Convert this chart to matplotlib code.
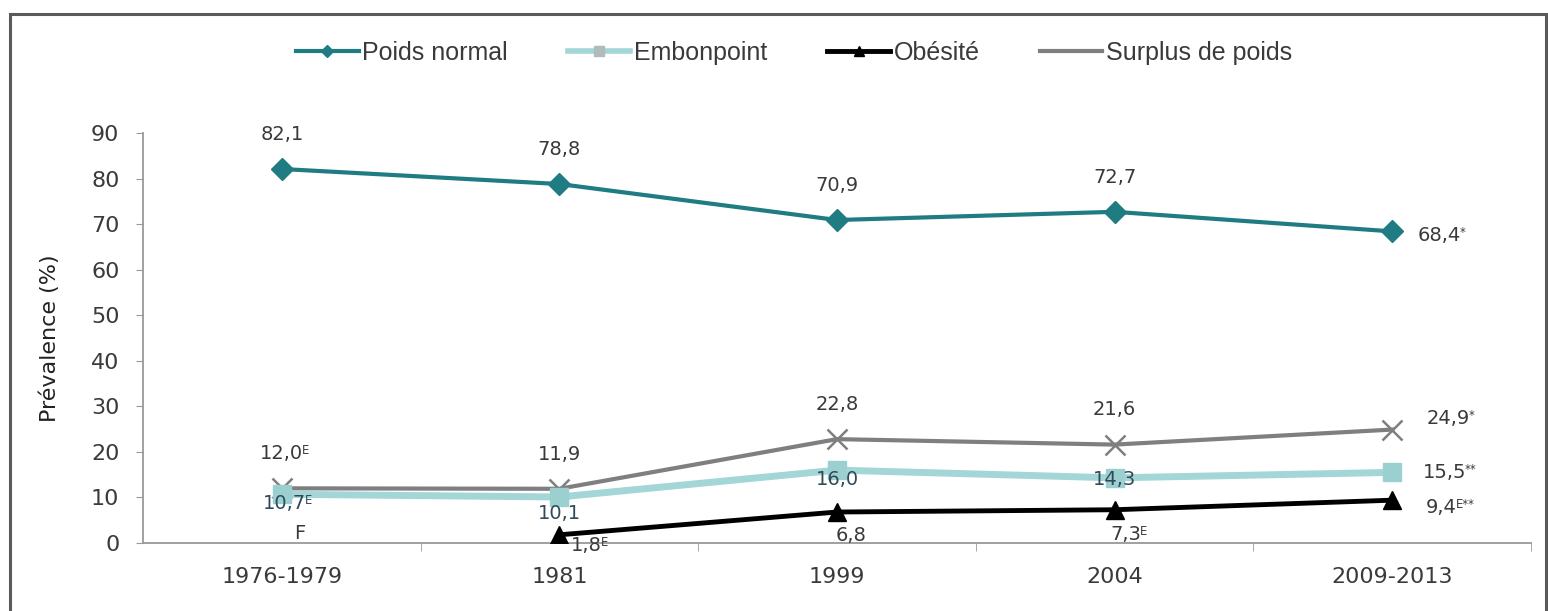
import matplotlib
matplotlib.use("Agg")
import matplotlib.pyplot as plt
from matplotlib.lines import Line2D
from matplotlib.patches import Rectangle
from matplotlib.ticker import FixedLocator

plt.rcParams['font.family'] = ['DejaVu Sans']

periods = ["1976-1979", "1981", "1999", "2004", "2009-2013"]

poids_normal = [82.1, 78.8, 70.9, 72.7, 68.4]
embonpoint = [10.7, 10.1, 16.0, 14.3, 15.5]
obesite = [None, 1.8, 6.8, 7.3, 9.4]
surplus = [12.0, 11.9, 22.8, 21.6, 24.9]

# (value text, superscript note)
poids_labels = [("82,1", ""), ("78,8", ""), ("70,9", ""), ("72,7", ""), ("68,4", "*")]
embon_labels = [("10,7", "E"), ("10,1", ""), ("16,0", ""), ("14,3", ""), ("15,5", "**")]
obes_labels = [("F", ""), ("1,8", "E"), ("6,8", ""), ("7,3", "E"), ("9,4", "E**")]
surplus_labels = [("12,0", "E"), ("11,9", ""), ("22,8", ""), ("21,6", ""), ("24,9", "*")]

series_names = ["Poids normal", "Embonpoint", "Obésité", "Surplus de poids"]

C_NORMAL = "#1f7c82"
C_EMBON = "#a3d6d6"
C_OBES = "#000000"
C_SURPLUS = "#7f7f7f"
TXT = "#3a3a3a"
FS = 14

fig = plt.figure(figsize=(15.48, 6.11), dpi=100)
ax = fig.add_axes([143 / 1548, 68 / 611, 1388 / 1548, 410 / 611])

# outer frame around the whole graphic
fig.patches.append(Rectangle((10 / 1548, -0.05), 1536 / 1548, 1.05 - 14 / 611,
                             transform=fig.transFigure, fill=False,
                             edgecolor="#5a5a5a", linewidth=2.2))

x = list(range(len(periods)))

ax.plot(x, surplus, color=C_SURPLUS, lw=3, marker="x", ms=14, mew=1.8, zorder=2)
ax.plot(x, embonpoint, color=C_EMBON, lw=5, marker="s", ms=13, mfc="#9ccfcf",
        mec="#9ccfcf", zorder=3)
ox = [i for i, v in zip(x, obesite) if v is not None]
oy = [v for v in obesite if v is not None]
ax.plot(ox, oy, color=C_OBES, lw=3.5, marker="^", ms=13, zorder=4)
ax.plot(x, poids_normal, color=C_NORMAL, lw=3, marker="D", ms=11, zorder=5)


def label(xv, yv, base, sup, dx, dy, ha="center", color=TXT):
    t = ax.annotate(base, (xv, yv), xytext=(dx, dy),
                    textcoords="offset points", ha=ha, va="center",
                    fontsize=FS, color=color, zorder=6)
    if sup:
        ax.annotate(sup, xy=(0.97, 1.0), xycoords=t, xytext=(0, 0),
                    textcoords="offset points", ha="left", va="top",
                    fontsize=FS * 0.6, color=color, zorder=6)
    return t


# Poids normal labels
for i, (v, (b, s)) in enumerate(zip(poids_normal, poids_labels)):
    if i < 4:
        label(i, v, b, s, 0, 25)
    else:
        label(i, v, b, s, 18, -3, ha="left")

# Surplus de poids labels
for i, (v, (b, s)) in enumerate(zip(surplus, surplus_labels)):
    if i < 4:
        label(i, v, b, s, 0, 25)
    else:
        label(i, v, b, s, 25, 8, ha="left")

# Embonpoint labels
embon_offsets = [(2, -7), (0, -12), (0, -7), (0, -1)]
for i, (v, (b, s)) in enumerate(zip(embonpoint, embon_labels)):
    if i < 4:
        dx, dy = embon_offsets[i]
        label(i, v, b, s, dx, dy, color="#2f4a5a")
    else:
        label(i, v, b, s, 22, 0, ha="left")

# Obésité labels ("F": estimate too unreliable to publish)
label(0, 0, obes_labels[0][0], "", 13, 7)
obes_offsets = [None, (8, -8), (10, -17), (8, -18), (24, -5)]
for i in range(1, 5):
    dx, dy = obes_offsets[i]
    ha = "left" if i in (1, 4) else "center"
    b, s = obes_labels[i]
    label(i, obesite[i], b, s, dx, dy, ha=ha)

ax.set_xlim(-0.5, 4.5)
ax.set_ylim(0, 90)
ax.set_yticks(range(0, 91, 10))
ax.set_xticks(x)
ax.set_xticklabels(periods)
ax.xaxis.set_minor_locator(FixedLocator([0.5, 1.5, 2.5, 3.5, 4.5]))
ax.tick_params(axis="x", which="major", length=0, pad=17, labelsize=16, labelcolor=TXT)
ax.tick_params(axis="x", which="minor", length=6, color="#999999", direction="out")
ax.tick_params(axis="y", length=5, color="#999999", labelsize=16, labelcolor=TXT, pad=12)
for s in ("top", "right"):
    ax.spines[s].set_visible(False)
for s in ("left", "bottom"):
    ax.spines[s].set_color("#999999")
    ax.spines[s].set_linewidth(1.3)
ax.set_ylabel("Prévalence (%)", fontsize=16, color="#222222", labelpad=22)

handles = [
    Line2D([], [], color=C_NORMAL, lw=3, marker="D", ms=6),
    Line2D([], [], color=C_EMBON, lw=4, marker="s", ms=7, mfc="#b0bcbc", mec="#b0bcbc"),
    Line2D([], [], color=C_OBES, lw=3.5, marker="^", ms=7),
    Line2D([], [], color=C_SURPLUS, lw=3),
]
fig.legend(handles, series_names, loc="center", bbox_to_anchor=(0.513, 0.913),
           ncol=4, frameon=False, handlelength=2.5, handletextpad=0.15,
           columnspacing=2.4, labelcolor=TXT,
           prop={"family": "Liberation Sans", "size": 18})

fig.savefig("out.png", dpi=100)
